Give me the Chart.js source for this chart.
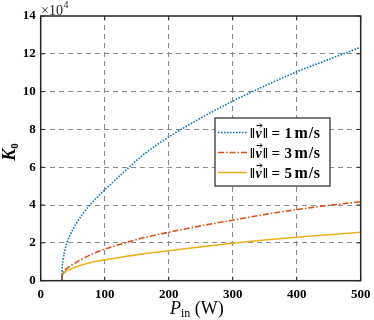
<!DOCTYPE html>
<html><head><meta charset="utf-8">
<script src="https://cdn.jsdelivr.net/npm/chart.js@4.4.0/dist/chart.umd.min.js"></script>
<style>html,body{margin:0;padding:0;background:#fff}#wrap{width:374px;height:320px}</style>
</head><body><div id="wrap"><canvas id="c" width="374" height="320"></canvas></div>
<script>
const powerW = [33, 33.5, 35, 38, 41, 45, 56, 65, 82, 100, 130, 160, 200, 250, 300, 350, 400, 450, 500];
const k0v1 = [0, 0.6, 1.1, 1.65, 2.0, 2.35, 3.05, 3.5, 4.2, 4.8, 5.75, 6.65, 7.6, 8.6, 9.5, 10.3, 11.05, 11.7, 12.35];
const k0v3 = [0, 0.25, 0.42, 0.55, 0.65, 0.75, 0.98, 1.15, 1.43, 1.67, 1.98, 2.27, 2.56, 2.9, 3.2, 3.5, 3.76, 3.98, 4.18];
const k0v5 = [0, 0.2, 0.35, 0.45, 0.53, 0.58, 0.74, 0.84, 0.99, 1.1, 1.27, 1.42, 1.58, 1.79, 1.98, 2.15, 2.3, 2.43, 2.56];
const speeds = ['1', '3', '5'];
const seriesLabels = speeds.map(s => '\u2016v\u2016 = ' + s + ' m/s');
const xTicks = [0, 100, 200, 300, 400, 500];
const yTicks = [0, 2, 4, 6, 8, 10, 12, 14];
const AX = '#262626';
const SERIF = '"Liberation Serif","DejaVu Serif",serif';

const pts = arr => powerW.map((p, i) => ({x: p, y: arr[i]}));
const styles = [
  {color: '#0072BD', dash: [1.5, 1.5]},
  {color: '#D95319', dash: [6, 2, 1.5, 2]},
  {color: '#EDB120', dash: []}
];
const datasets = [k0v1, k0v3, k0v5].map((arr, i) => ({
  label: seriesLabels[i], data: pts(arr), borderColor: styles[i].color,
  borderDash: styles[i].dash, borderWidth: 1.6, pointRadius: 0,
  cubicInterpolationMode: 'monotone', fill: false
}));

const deco = {
  id: 'deco',
  afterDraw(chart) {
    const ctx = chart.ctx, a = chart.chartArea, xs = chart.scales.x, ys = chart.scales.y;
    ctx.save();
    ctx.strokeStyle = AX; ctx.lineWidth = 1.5; ctx.setLineDash([]);
    ctx.strokeRect(a.left, a.top, a.right - a.left, a.bottom - a.top);
    ctx.lineWidth = 1;
    ctx.beginPath();
    xTicks.forEach(v => { const px = xs.getPixelForValue(v);
      ctx.moveTo(px, a.bottom); ctx.lineTo(px, a.bottom - 4);
      ctx.moveTo(px, a.top); ctx.lineTo(px, a.top + 4); });
    yTicks.forEach(v => { const py = ys.getPixelForValue(v);
      ctx.moveTo(a.left, py); ctx.lineTo(a.left + 4, py);
      ctx.moveTo(a.right, py); ctx.lineTo(a.right - 4, py); });
    ctx.stroke();
    // exponent label
    ctx.fillStyle = AX; ctx.textBaseline = 'alphabetic'; ctx.textAlign = 'left';
    ctx.font = '14px ' + SERIF;
    ctx.fillText('\u00D710', 41, 15);
    const w10 = ctx.measureText('\u00D710').width;
    ctx.font = '10px ' + SERIF;
    ctx.fillText('4', 41 + w10 + 0.5, 8);
    // x title
    ctx.font = 'italic 18px ' + SERIF;
    const wP = ctx.measureText('P').width;
    ctx.font = '12px ' + SERIF;
    const wIn = ctx.measureText('in').width;
    const x0 = 170, yb = 314;
    ctx.fillStyle = '#000';
    ctx.font = 'italic 18px ' + SERIF; ctx.fillText('P', x0, yb);
    ctx.font = '12px ' + SERIF; ctx.fillText('in', x0 + wP, yb + 3);
    ctx.font = '18px ' + SERIF; ctx.fillText(' (W)', x0 + wP + wIn, yb);
    // y title
    ctx.save();
    ctx.translate(15, 152); ctx.rotate(-Math.PI / 2);
    ctx.font = 'italic bold 18px ' + SERIF;
    const wK = ctx.measureText('K').width;
    ctx.font = 'bold 11px ' + SERIF;
    const w0 = ctx.measureText('0').width;
    const kx = -(wK + w0) / 2;
    ctx.font = 'italic bold 18px ' + SERIF; ctx.fillText('K', kx, 0);
    ctx.font = 'bold 11px ' + SERIF; ctx.fillText('0', kx + wK, 3);
    ctx.restore();
    // legend
    const L = 215, T = 118, R = 330, B = 186;
    ctx.fillStyle = '#fff'; ctx.fillRect(L, T, R - L, B - T);
    ctx.strokeStyle = AX; ctx.lineWidth = 1.2; ctx.strokeRect(L, T, R - L, B - T);
    const rows = [132.5, 152.5, 172.5];
    chart.data.datasets.forEach((ds, i) => {
      const y = rows[i];
      ctx.strokeStyle = ds.borderColor; ctx.lineWidth = 1.6;
      ctx.setLineDash(ds.borderDash);
      ctx.beginPath(); ctx.moveTo(218, y); ctx.lineTo(247, y); ctx.stroke();
      ctx.setLineDash([]);
      ctx.fillStyle = '#000'; ctx.textBaseline = 'alphabetic';
      const base = y + 5;
      ctx.font = 'bold 15px ' + SERIF;
      ctx.fillText('\u2016', 250, base);
      ctx.font = 'italic bold 14px ' + SERIF;
      ctx.fillText('v', 255.5, base);
      ctx.strokeStyle = '#000'; ctx.lineWidth = 1;
      ctx.beginPath();
      ctx.moveTo(256.5, base - 12); ctx.lineTo(262, base - 12);
      ctx.moveTo(260, base - 14); ctx.lineTo(262, base - 12); ctx.lineTo(260, base - 10);
      ctx.stroke();
      ctx.font = 'bold 15px ' + SERIF;
      ctx.fillText('\u2016', 263, base);
      ctx.fillText('=', 271.5, base);
      ctx.fillText(speeds[i], 284.5, base);
      ctx.font = 'bold 16px ' + SERIF;
      ctx.letterSpacing = '0.8px';
      ctx.fillText('m/s', 294.5, base);
      ctx.letterSpacing = '0px';
    });
    ctx.restore();
  }
};

new Chart(document.getElementById('c'), {
  type: 'line',
  data: {datasets},
  options: {
    responsive: false, animation: false, devicePixelRatio: 1,
    layout: {padding: {left: 0, top: 16, right: 13.3, bottom: 0}},
    plugins: {legend: {display: false}, tooltip: {enabled: false}},
    scales: {
      x: {type: 'linear', min: 0, max: 500,
        afterBuildTicks: s => { s.ticks = xTicks.map(v => ({value: v})); },
        afterFit: s => { s.height = 39.3; s.paddingLeft = 0; s.paddingRight = 0; },
        ticks: {color: '#000', padding: 6, maxRotation: 0,
          font: {family: SERIF, size: 13, weight: 'bold'}},
        grid: {color: ctx => (ctx.tick && (ctx.tick.value === 0 || ctx.tick.value === 500)) ? 'rgba(0,0,0,0)' : '#8c8c8c',
          lineWidth: 1.1, drawTicks: false},
        border: {display: false, dash: [5, 4]}
      },
      y: {min: 0, max: 14,
        afterBuildTicks: s => { s.ticks = yTicks.map(v => ({value: v})); },
        afterFit: s => { s.width = 40.7; s.paddingTop = 0; s.paddingBottom = 0; },
        ticks: {color: '#000', padding: 5,
          font: {family: SERIF, size: 13, weight: 'bold'}},
        grid: {color: ctx => (ctx.tick && (ctx.tick.value === 0 || ctx.tick.value === 14)) ? 'rgba(0,0,0,0)' : '#8c8c8c',
          lineWidth: 1.1, drawTicks: false},
        border: {display: false, dash: [5, 4]}
      }
    }
  },
  plugins: [deco]
});
</script></body></html>
